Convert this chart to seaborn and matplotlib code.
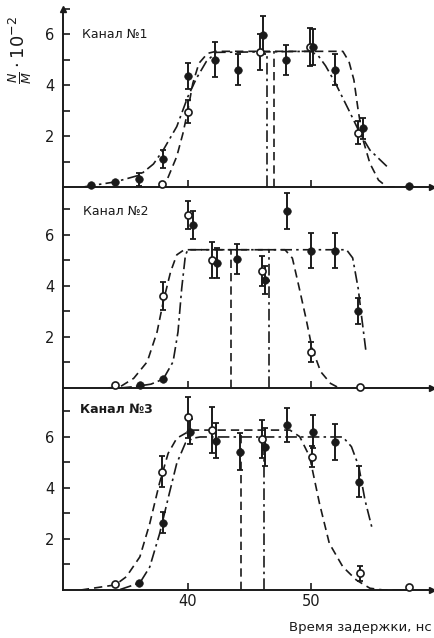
import matplotlib
matplotlib.use("Agg")
import matplotlib.pyplot as plt
import seaborn as sns
import numpy as np

# ---------------- data ----------------
channels = ["Канал №1", "Канал №2", "Канал №3"]

# filled points (x, y, error)
f1_x = [32.1, 34.1, 36.0, 38.0, 40.0, 42.2, 44.1, 46.1, 48.0, 50.2, 52.0, 54.25, 58.0]
f1_y = [0.08, 0.18, 0.30, 1.10, 4.35, 5.00, 4.60, 5.95, 4.98, 5.50, 4.60, 2.30, 0.02]
f1_e = [0.0, 0.0, 0.25, 0.35, 0.50, 0.70, 0.60, 0.75, 0.60, 0.70, 0.60, 0.40, 0.0]
o1_x = [37.9, 40.0, 45.9, 49.9, 53.85]
o1_y = [0.10, 2.95, 5.30, 5.50, 2.13]
o1_e = [0.0, 0.45, 0.70, 0.75, 0.45]

f2_x = [36.1, 38.0, 40.4, 42.4, 44.0, 46.3, 48.07, 50.0, 52.0, 53.85]
f2_y = [0.12, 0.35, 6.40, 4.90, 5.05, 4.24, 6.94, 5.39, 5.39, 3.02]
f2_e = [0.0, 0.0, 0.55, 0.60, 0.60, 0.55, 0.70, 0.70, 0.70, 0.50]
o2_x = [34.07, 38.0, 40.0, 42.0, 46.0, 50.0, 54.0]
o2_y = [0.10, 3.62, 6.78, 5.02, 4.59, 1.42, 0.02]
o2_e = [0.0, 0.55, 0.55, 0.70, 0.60, 0.40, 0.0]

f3_x = [36.0, 38.0, 40.2, 42.3, 44.2, 46.3, 48.07, 50.2, 52.0, 53.9]
f3_y = [0.26, 2.64, 6.21, 5.86, 5.42, 5.62, 6.47, 6.21, 5.79, 4.25]
f3_e = [0.0, 0.40, 0.50, 0.70, 0.72, 0.75, 0.67, 0.65, 0.70, 0.60]
o3_x = [34.1, 37.9, 40.0, 42.0, 46.05, 50.1, 54.0, 58.0]
o3_y = [0.24, 4.64, 6.77, 6.27, 5.91, 5.23, 0.65, 0.13]
o3_e = [0.0, 0.60, 0.80, 0.90, 0.75, 0.40, 0.30, 0.0]

# fitted curves
d1_x = [37.6, 38.3, 39.1, 39.6, 40.0, 40.4, 40.9, 41.6, 42.3, 52.6, 53.1, 53.5, 53.85, 54.25, 54.8, 55.5, 56.2, 56.8]
d1_y = [0.0, 0.27, 1.2, 2.1, 3.0, 4.06, 4.85, 5.24, 5.32, 5.32, 4.92, 4.2, 3.0, 1.84, 0.93, 0.27, 0.0, 0.0]
c1_x = [31.5, 32.1, 34.1, 36.1, 37.2, 38.0, 39.1, 40.0, 40.7, 41.5, 42.3, 50.0, 50.6, 51.2, 52.0, 53.1, 54.0, 54.8, 56.2]
c1_y = [0.0, 0.05, 0.2, 0.47, 0.9, 1.45, 2.37, 3.54, 4.26, 4.92, 5.28, 5.32, 5.15, 4.75, 4.07, 3.0, 2.1, 1.45, 0.8]

d2_x = [33.5, 34.5, 35.6, 36.7, 37.5, 38.0, 38.6, 39.1, 39.7, 47.9, 48.5, 49.0, 49.6, 50.1, 50.8, 51.6, 52.3]
d2_y = [0.0, 0.05, 0.38, 1.03, 2.2, 3.38, 4.56, 5.22, 5.42, 5.42, 5.09, 4.04, 2.74, 1.56, 0.64, 0.18, 0.0]
c2_x = [34.5, 35.6, 37.0, 38.0, 38.8, 39.2, 39.5, 39.8, 40.0, 52.9, 53.4, 53.85, 54.1, 54.5]
c2_y = [0.0, 0.05, 0.15, 0.35, 1.03, 2.2, 3.9, 5.2, 5.42, 5.42, 5.1, 3.9, 2.9, 1.36]

d3_x = [31.3, 34.1, 35.0, 36.1, 36.9, 37.7, 38.4, 39.1, 39.9, 40.5, 48.3, 49.1, 49.9, 50.7, 51.5, 52.6, 53.7, 54.8, 55.9, 58.0]
d3_y = [0.0, 0.2, 0.52, 1.3, 2.6, 4.2, 5.36, 5.95, 6.17, 6.27, 6.27, 6.01, 5.23, 3.4, 1.83, 0.91, 0.39, 0.07, 0.0, 0.0]
c3_x = [34.5, 36.1, 36.9, 37.7, 38.5, 39.1, 39.8, 40.4, 41.0, 52.6, 53.3, 53.9, 54.4, 55.0]
c3_y = [0.02, 0.28, 0.9, 2.2, 3.8, 4.97, 5.76, 5.95, 6.0, 6.0, 5.62, 4.84, 3.53, 2.38]

# vertical marker lines (x, height)
vd_x = [47.0, 43.5, 44.3]
vd_h = [5.32, 5.42, 6.27]
vc_x = [46.4, 46.6, 46.2]
vc_h = [5.32, 5.42, 6.0]

ytops = [7.0, 7.88, 7.92]
xticks = [40, 50]
yticks_major = [2, 4, 6]
yticks_minor = [1, 3, 5, 7]

# ---------------- figure ----------------
sns.set_theme(style="ticks")
plt.rcParams["font.family"] = ["DejaVu Sans"]

fig = plt.figure(figsize=(4.34, 6.38), dpi=100)
W, H = 434, 638
left_px, right_px = 63, 432
panels_px = [(187, 8.5), (388, 187), (590, 388)]  # (zero row, top row)

filled = [(f1_x, f1_y, f1_e), (f2_x, f2_y, f2_e), (f3_x, f3_y, f3_e)]
opened = [(o1_x, o1_y, o1_e), (o2_x, o2_y, o2_e), (o3_x, o3_y, o3_e)]
dashed = [(d1_x, d1_y), (d2_x, d2_y), (d3_x, d3_y)]
dashdot = [(c1_x, c1_y), (c2_x, c2_y), (c3_x, c3_y)]
label_pos = [(31.4, 6.0), (31.5, 6.9), (31.2, 7.06)]

dash_style = (0, (5, 3))
dashdot_style = (0, (7, 2.5, 1.5, 2.5))

for i in range(3):
    zero, top = panels_px[i]
    ax = fig.add_axes([left_px / W, 1 - zero / H, (right_px - left_px) / W, (zero - top) / H])
    ax.set_xlim(29.85, 59.85)
    ax.set_ylim(0, ytops[i])
    ax.patch.set_alpha(0)

    # curves
    sns.lineplot(x=dashed[i][0], y=dashed[i][1], ax=ax, color="k", lw=1.2,
                 linestyle=dash_style, sort=False, estimator=None)
    sns.lineplot(x=dashdot[i][0], y=dashdot[i][1], ax=ax, color="k", lw=1.2,
                 linestyle=dashdot_style, sort=False, estimator=None)
    ax.vlines(vd_x[i], 0, vd_h[i], color="k", lw=1.2, linestyles=[dash_style])
    ax.vlines(vc_x[i], 0, vc_h[i], color="k", lw=1.2, linestyles=[dashdot_style])

    # error bars and points
    fx, fy, fe = filled[i]
    ox, oy, oe = opened[i]
    ax.errorbar(fx, fy, yerr=fe, fmt="none", ecolor="k", elinewidth=1.4, capsize=2.5,
                capthick=1.3, clip_on=False)
    ax.errorbar(ox, oy, yerr=oe, fmt="none", ecolor="k", elinewidth=1.4, capsize=2.5,
                capthick=1.3, clip_on=False)
    sns.scatterplot(x=ox, y=oy, ax=ax, marker="o", s=26, facecolor="white",
                    edgecolor="k", linewidth=1.2, clip_on=False, zorder=5)
    sns.scatterplot(x=fx, y=fy, ax=ax, marker="o", s=30, color="k",
                    edgecolor="k", clip_on=False, zorder=6)

    # axes styling
    for s in ["top", "right"]:
        ax.spines[s].set_visible(False)
    for s in ["left", "bottom"]:
        ax.spines[s].set_linewidth(1.4)
        ax.spines[s].set_color("k")
    ax.set_xticks(xticks)
    ax.set_yticks(yticks_major)
    ax.set_yticks(yticks_minor, minor=True)
    ax.tick_params(axis="both", which="both", direction="in", colors="k", width=1.2)
    ax.tick_params(axis="y", which="major", length=5, labelsize=10.5, pad=6)
    ax.tick_params(axis="y", which="minor", length=5)
    ax.tick_params(axis="x", which="major", length=5, labelsize=10.5, pad=3)
    if i < 2:
        ax.tick_params(axis="x", labelbottom=False)
    ax.set_xlabel("")
    ax.set_ylabel("")

    # arrow at end of x axis
    ax.plot(1.0, 0, marker=">", color="k", ms=5, transform=ax.transAxes, clip_on=False)
    if i == 0:
        ax.plot(0, 1.0, marker="^", color="k", ms=5, transform=ax.transAxes, clip_on=False)

    ax.text(label_pos[i][0], label_pos[i][1], channels[i], fontsize=9,
            fontweight="bold" if i == 2 else "normal", ha="left", va="center", color="k")

fig.text(20 / W, 1 - 50 / H, r"$\frac{N}{M}\cdot10^{-2}$", rotation=90,
         fontsize=13, ha="center", va="center", color="k")
fig.text(360 / W, 1 - 628 / H, "Время задержки, нс", fontsize=9.5,
         ha="center", va="center", color="k")

fig.savefig("out.png", dpi=100)
